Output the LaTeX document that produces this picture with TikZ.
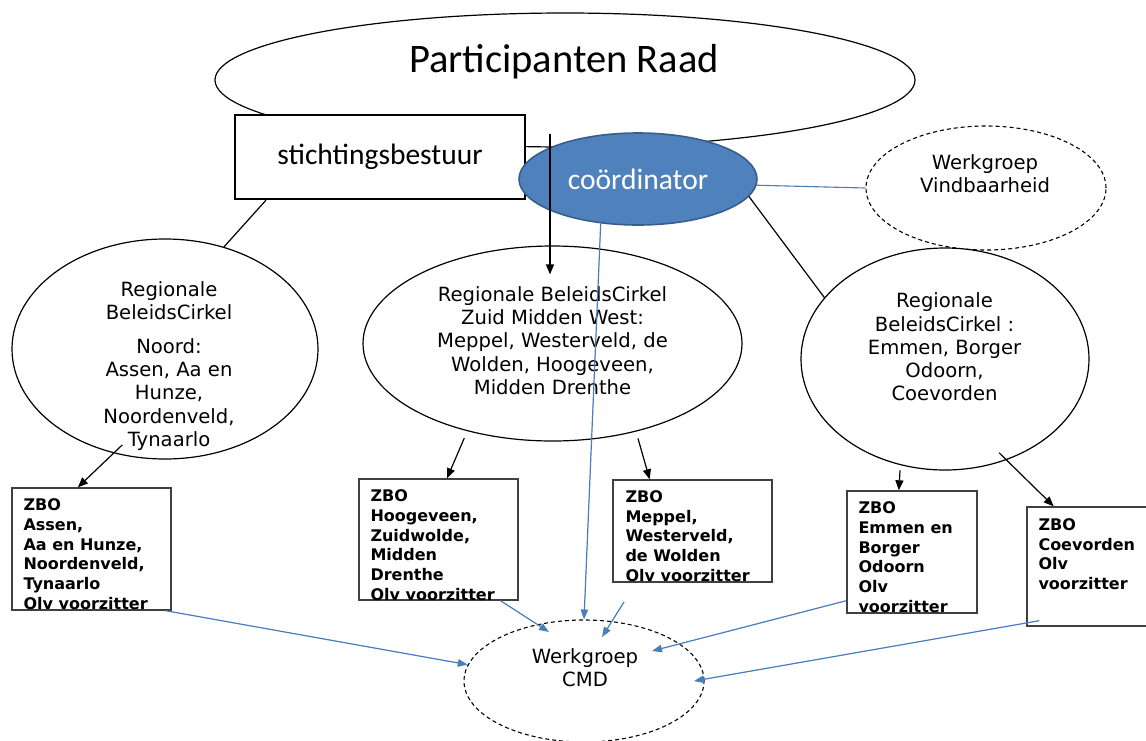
\documentclass[tikz,border=0pt]{standalone}
\usepackage{fontspec}
\newfontfamily\vfont{DejaVu Sans}
\newfontfamily\cfont{Carlito}
\usetikzlibrary{shapes.geometric,arrows.meta,calc}
\definecolor{lineblue}{HTML}{4A7EBB}
\definecolor{fillblue}{HTML}{4F81BD}
\definecolor{edgeblue}{HTML}{385D8A}
\definecolor{boxgray}{HTML}{404040}
\begin{document}
\begin{tikzpicture}[x=1pt,y=-1pt,
  bigell/.style={ellipse, draw, line width=1.2pt, fill=white, inner sep=0pt},
  dashell/.style={ellipse, draw, dash pattern=on 4pt off 3pt, line width=1.1pt, fill=white, inner sep=0pt},
  zbobox/.style={rectangle, draw=boxgray, line width=1.4pt, fill=white, inner sep=0pt},
  zbotext/.style={inner sep=0pt, anchor=north west, align=left, font=\vfont\bfseries\fontsize{16}{19.7}\selectfont},
  vtext/.style={inner sep=0pt, align=center, font=\vfont\fontsize{19.6}{23.3}\selectfont},
  calib/.style={inner sep=0pt, font=\cfont\fontsize{29.5}{32}\selectfont},
  blk/.style={line width=1.2pt, -{Triangle[length=10pt,width=8pt]}},
  blu/.style={draw=lineblue, line width=1.2pt, -{Triangle[length=10pt,width=7.5pt]}, fill=lineblue},
  plain/.style={line width=1.2pt}
]
\useasboundingbox (0,0) rectangle (1146,740);
\fill[white] (0,0) rectangle (1146,740);

% Participanten Raad
\node[bigell, minimum width=700, minimum height=134] (pr) at (565,80) {};
\node[inner sep=0pt, font=\cfont\fontsize{40.5}{42}\selectfont] (prt) at (564,62) {Participanten Raad};

% stichtingsbestuur
\node[calib, rectangle, draw, line width=2.4pt, fill=white, minimum width=290, minimum height=84] (sb) at (380,157) {stichtingsbestuur};

% coordinator
\node[calib, ellipse, draw=edgeblue, fill=fillblue, line width=1.6pt, minimum width=238, minimum height=92, text=white] (co) at (638,179) {coördinator};

% Werkgroep Vindbaarheid
\node[dashell, minimum width=240, minimum height=124] (vb) at (986,188) {};
\node[vtext] (vbt) at (985,174) {Werkgroep\\Vindbaarheid};

% Regional circles
\node[bigell, minimum width=306, minimum height=220] (no) at (165,349) {};
\node[vtext] (not) at (169,366) {Regionale\\BeleidsCirkel\\[10pt]Noord:\\Assen, Aa en\\Hunze,\\Noordenveld,\\Tynaarlo};

\node[bigell, minimum width=379, minimum height=195] (mi) at (552.5,343.5) {};
\node[vtext] (mit) at (552.5,340.5) {Regionale BeleidsCirkel\\Zuid Midden West:\\Meppel, Westerveld, de\\Wolden, Hoogeveen,\\Midden Drenthe};

\node[bigell, minimum width=288, minimum height=222] (re) at (945,359) {};
\node[vtext] (ret) at (944.5,347) {Regionale\\BeleidsCirkel :\\Emmen, Borger\\Odoorn,\\Coevorden};

% Werkgroep CMD
\node[dashell, minimum width=240, minimum height=122] (cmd) at (584,681) {};
\node[vtext] (cmdt) at (585,668) {Werkgroep\\CMD};

% ZBO boxes
\node[zbobox, minimum width=159, minimum height=122] (z1) at (91.5,549) {};
\node[zbotext] (z1t) at ($(z1.north west)+(12,11.5)$) {ZBO\\Assen,\\Aa en Hunze,\\Noordenveld,\\Tynaarlo\\Olv voorzitter};

\node[zbobox, minimum width=159, minimum height=121] (z2) at (438.5,539.5) {};
\node[zbotext] (z2t) at ($(z2.north west)+(12,11.5)$) {ZBO\\Hoogeveen,\\Zuidwolde,\\Midden\\Drenthe\\Olv voorzitter};

\node[zbobox, minimum width=159, minimum height=102] (z3) at (692.5,531) {};
\node[zbotext] (z3t) at ($(z3.north west)+(13,11)$) {ZBO\\Meppel,\\Westerveld,\\de Wolden\\Olv voorzitter};

\node[zbobox, minimum width=130, minimum height=122] (z4) at (912,552) {};
\node[zbotext] (z4t) at ($(z4.north west)+(12,11.5)$) {ZBO\\Emmen en\\Borger\\Odoorn\\Olv\\voorzitter};

\node[zbobox, minimum width=123, minimum height=119] (z5) at (1088.5,566.5) {};
\node[zbotext] (z5t) at ($(z5.north west)+(12,12)$) {ZBO\\Coevorden\\Olv\\voorzitter};

% black connectors
\draw[plain] ($(sb.south west)!0.11!(sb.south east)$) -- (no.60);
\draw[blk] ($(pr.south)+(-15,-14)$) -- ($(mi.north)+(-2.5,29)$);
\draw[plain] (co.-9) -- (re.153);
\draw[draw=lineblue, line width=1.1pt] (co.-3) -- (vb.west);

\draw[blk] ($(no.center)!0.91!(no.-114)$) -- ($(z1.north west)!0.415!(z1.north east)$);
\draw[blk] ($(mi.center)!1.07!(mi.-133)$) -- ($(z2.north west)!0.553!(z2.north east)$);
\draw[blk] ($(mi.center)!1.067!(mi.-48)$) -- ($(z3.north west)!0.233!(z3.north east)$);
\draw[blk] ($(re.center)!1.045!(re.-112)$) -- ($(z4.north west)!0.4!(z4.north east)$);
\draw[blk] ($(re.center)!0.92!(re.-60)$) -- ($(z5.north west)!0.22!(z5.north east)$);

% blue connectors to CMD
\coordinate (c1) at (624,602);
\draw[blu] ($(z1.south east)+(-6,0)$) -- (cmd.172);
\draw[blu] ($(z2.south west)!0.887!(z2.south east)$) -- ($(cmd.center)+(-35,-49)$);
\draw[blu] (co.-130) -- (cmd.north);
\draw[blu] (c1) -- ($(cmd.center)+(18,-44)$);
\draw[blu] ($(z4.south west)+(0,-13)$) -- ($(cmd.center)+(68,-30)$);
\draw[blu] ($(z5.south west)+(13,-6)$) -- ($(cmd.center)+(110,0)$);
\end{tikzpicture}
\end{document}
